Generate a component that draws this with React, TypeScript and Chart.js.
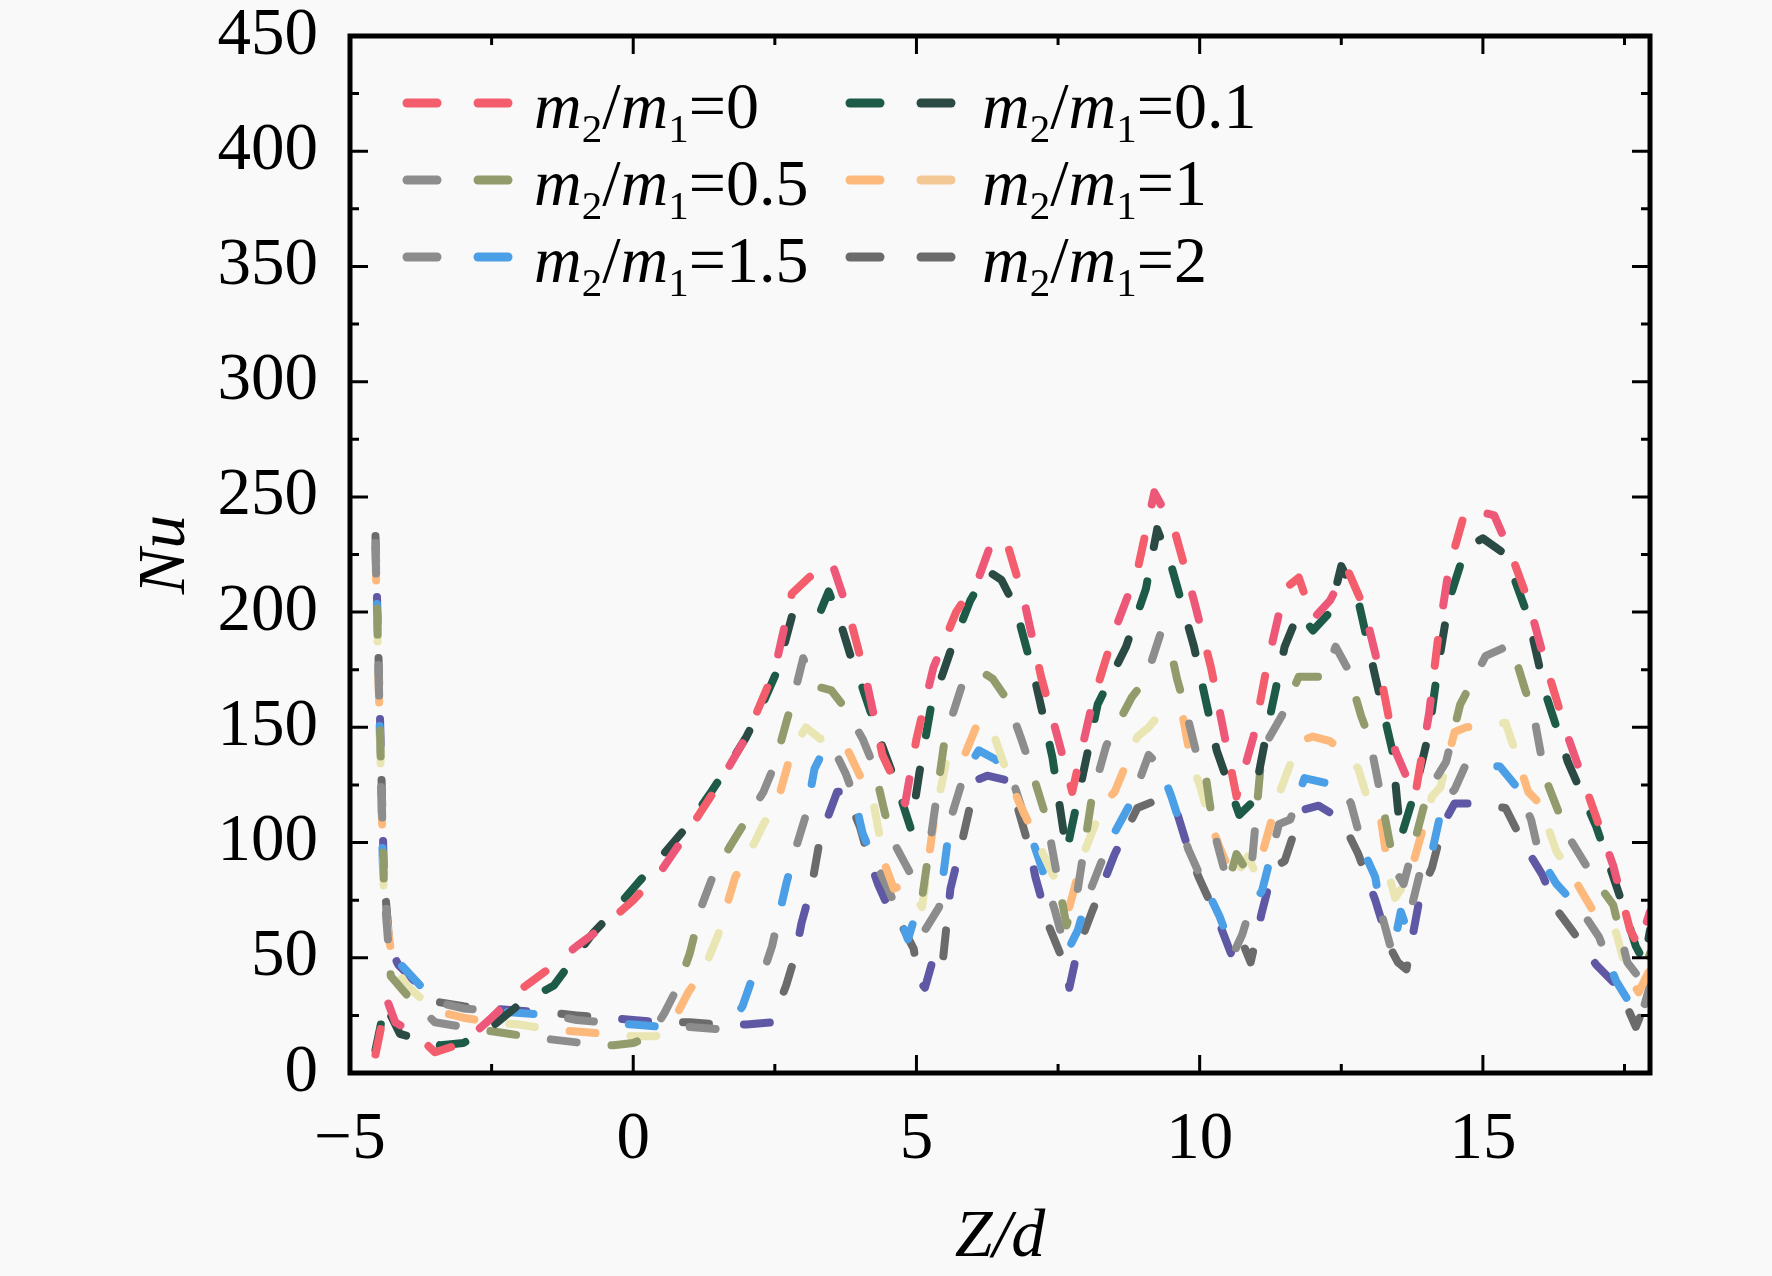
import { useEffect, useRef } from "react";
import { Chart, registerables } from "chart.js";

Chart.register(...registerables);

// Nu along Z/d, one pair of arrays per mass-flow ratio m2/m1
const zdM0 = [-4.55, -4.35, -4.2, -3.8, -3.5, -3.0, -2.5, -2.0, -1.5, -1.0, -0.5, 0, 0.5, 1.0, 1.5, 2.0, 2.5, 2.8, 3.1, 3.5, 3.8, 4.1, 4.4, 4.8, 5.0, 5.3, 5.7, 6.1, 6.35, 6.6, 6.9, 7.2, 7.5, 7.75, 8.1, 8.5, 8.9, 9.2, 9.55, 9.9, 10.2, 10.45, 10.65, 10.95, 11.2, 11.5, 11.75, 12.0, 12.3, 12.6, 12.9, 13.2, 13.45, 13.8, 14.05, 14.2, 14.4, 14.7, 15.2, 15.5, 15.8, 16.1, 16.5, 16.9, 17.3, 17.6, 17.75, 17.95];
const nuM0 = [8, 32, 22, 16, 9, 13, 24, 36, 45, 55, 64, 75, 88, 106, 125, 146, 175, 208, 215, 222, 200, 172, 138, 117, 145, 176, 200, 215, 232, 230, 205, 172, 145, 122, 160, 192, 218, 252, 236, 205, 176, 145, 120, 146, 178, 210, 215, 197, 205, 219, 202, 172, 140, 120, 156, 187, 219, 245, 242, 225, 205, 178, 146, 118, 90, 62, 55, 70];

const zdM01 = [-4.55, -4.38, -4.12, -3.4, -3.0, -2.5, -2.0, -1.4, -1.1, -0.7, -0.35, 0.1, 0.5, 0.95, 1.35, 1.7, 2.0, 2.3, 2.55, 2.8, 3.0, 3.3, 3.45, 3.65, 3.85, 4.05, 4.35, 4.65, 4.9, 5.05, 5.25, 5.6, 5.95, 6.25, 6.5, 6.75, 7.1, 7.4, 7.65, 7.9, 8.2, 8.7, 9.05, 9.25, 9.5, 9.9, 10.3, 10.7, 10.95, 11.2, 11.5, 11.75, 12.0, 12.3, 12.5, 12.8, 13.1, 13.4, 13.55, 13.8, 14.05, 14.2, 14.4, 14.7, 15.0, 15.4, 15.8, 16.1, 16.5, 17.0, 17.4, 17.7, 17.85, 17.95];
const nuM01 = [10, 30, 17, 12, 13, 20, 30, 38, 48, 61, 70, 83, 94, 107, 121, 134, 146, 161, 175, 198, 202, 200, 209, 196, 180, 167, 145, 125, 106, 130, 158, 183, 205, 218, 214, 202, 170, 137, 96, 125, 160, 185, 210, 236, 220, 185, 140, 112, 118, 150, 185, 200, 192, 200, 220, 205, 172, 140, 102, 122, 148, 175, 205, 228, 232, 225, 198, 165, 135, 107, 78, 55, 48, 62];

const zdM05 = [-4.55, -4.4, -4.28, -4.0, -3.5, -3.0, -2.2, -1.6, -0.9, -0.35, 0.0, 0.3, 0.55, 0.8, 1.0, 1.2, 1.4, 1.7, 2.0, 2.3, 2.5, 2.7, 2.85, 3.0, 3.2, 3.5, 3.75, 4.05, 4.25, 4.45, 4.6, 4.95, 5.1, 5.3, 5.5, 5.8, 6.1, 6.35, 6.6, 6.85, 7.0, 7.3, 7.45, 7.65, 7.85, 8.1, 8.35, 8.8, 9.05, 9.3, 9.45, 9.6, 9.75, 9.95, 10.1, 10.25, 10.5, 10.65, 10.9, 11.1, 11.45, 11.75, 12.2, 12.4, 12.6, 12.85, 13.0, 13.2, 13.45, 13.6, 13.95, 14.15, 14.35, 14.6, 15.05, 15.5, 15.75, 15.9, 16.05, 16.15, 16.5, 17.0, 17.3, 17.55, 17.8, 17.95];
const nuM05 = [228, 80, 42, 34, 22, 20, 17, 15, 13, 12, 13, 16, 26, 38, 52, 72, 85, 98, 110, 122, 134, 152, 165, 180, 168, 166, 158, 145, 133, 112, 100, 84, 76, 110, 145, 168, 175, 171, 162, 145, 134, 110, 90, 64, 80, 120, 142, 163, 171, 190, 188, 171, 158, 138, 130, 105, 82, 95, 85, 140, 155, 172, 172, 185, 176, 155, 145, 120, 88, 82, 115, 127, 135, 160, 181, 186, 166, 155, 135, 125, 103, 83, 73, 48, 40, 52];

const zdM1 = [-4.55, -4.4, -4.25, -4.0, -3.5, -3.0, -2.5, -2.0, -1.5, -1.0, -0.5, 0.0, 0.4, 0.7, 0.97, 1.25, 1.5, 1.8, 2.0, 2.3, 2.55, 2.8, 3.05, 3.3, 3.5, 3.75, 4.1, 4.25, 4.45, 4.6, 4.8, 5.1, 5.3, 5.55, 5.8, 6.1, 6.35, 6.5, 6.8, 7.2, 7.35, 7.7, 7.95, 8.3, 8.5, 8.9, 9.1, 9.3, 9.7, 9.85, 10.0, 10.2, 10.35, 10.6, 10.85, 11.0, 11.4, 11.75, 12.0, 12.3, 12.6, 12.8, 13.0, 13.2, 13.35, 13.45, 13.7, 14.1, 14.25, 14.5, 14.7, 15.4, 15.55, 15.8, 16.0, 16.3, 16.5, 17.0, 17.35, 17.55, 17.75, 17.95];
const nuM1 = [225, 75, 48, 38, 27, 24, 22, 21, 19, 18, 17, 16, 16, 22, 35, 45, 60, 85, 93, 108, 118, 140, 150, 145, 146, 142, 124, 116, 90, 80, 82, 72, 108, 138, 135, 153, 148, 137, 118, 97, 89, 72, 95, 117, 122, 146, 150, 156, 155, 135, 125, 108, 98, 84, 94, 86, 121, 144, 146, 144, 138, 132, 116, 110, 85, 76, 85, 120, 124, 148, 150, 152, 141, 122, 117, 96, 89, 68, 61, 43, 35, 45];

const zdM15 = [-4.55, -4.42, -4.3, -4.1, -3.5, -3.0, -2.5, -2.0, -1.4, -1.0, -0.5, 0.0, 0.5, 1.0, 1.5, 1.75, 1.93, 2.1, 2.25, 2.45, 2.7, 2.9, 3.05, 3.2, 3.4, 3.55, 3.75, 3.9, 4.05, 4.22, 4.5, 4.7, 4.85, 5.0, 5.15, 5.4, 5.6, 5.85, 6.1, 6.4, 6.7, 6.95, 7.2, 7.45, 7.65, 7.85, 8.0, 8.4, 8.8, 9.1, 9.3, 9.5, 9.8, 10.0, 10.35, 10.6, 10.75, 10.9, 11.1, 11.4, 11.6, 11.85, 12.2, 12.5, 12.67, 12.9, 13.1, 13.2, 13.4, 13.55, 13.65, 13.9, 14.05, 14.3, 14.5, 14.7, 15.3, 15.6, 15.85, 16.0, 16.3, 16.75, 17.05, 17.35, 17.6, 17.8, 17.95];
const nuM15 = [230, 90, 55, 47, 31, 28, 27, 26, 25, 23, 22, 21, 20, 20, 19, 22, 29, 41, 40, 55, 82, 100, 112, 132, 142, 140, 130, 120, 104, 94, 80, 68, 58, 70, 62, 72, 110, 130, 140, 136, 127, 108, 90, 70, 52, 62, 75, 100, 118, 138, 133, 120, 97, 86, 68, 52, 60, 72, 79, 108, 110, 128, 126, 124, 117, 96, 85, 70, 52, 70, 63, 88, 90, 118, 123, 134, 133, 124, 110, 94, 82, 70, 59, 40, 30, 25, 38];

const zdM2 = [-4.55, -4.4, -4.3, -4.15, -3.5, -3.0, -2.5, -2.0, -1.4, -1.0, -0.5, 0.0, 0.5, 1.0, 1.5, 2.0, 2.45, 2.7, 2.86, 2.97, 3.15, 3.3, 3.45, 3.6, 3.75, 4.0, 4.15, 4.32, 4.5, 4.72, 4.95, 5.05, 5.15, 5.3, 5.45, 5.6, 5.8, 6.05, 6.25, 6.6, 6.8, 7.0, 7.1, 7.35, 7.6, 7.7, 7.85, 8.1, 8.5, 8.9, 9.3, 9.6, 9.85, 10.0, 10.3, 10.55, 10.7, 10.9, 11.1, 11.3, 11.5, 11.8, 12.1, 12.5, 12.8, 13.1, 13.35, 13.5, 13.65, 13.9, 14.1, 14.3, 14.5, 14.8, 15.4, 15.75, 16.05, 16.3, 16.6, 17.0, 17.4, 17.7, 17.95];
const nuM2 = [233, 85, 55, 47, 31, 29, 28, 27, 26, 25, 24, 23, 22, 22, 21, 21, 22, 38, 51, 65, 81, 102, 112, 122, 122, 107, 94, 82, 72, 65, 54, 40, 37, 50, 45, 80, 100, 127, 129, 127, 114, 97, 85, 63, 48, 37, 54, 70, 95, 115, 119, 113, 93, 84, 68, 52, 60, 48, 70, 89, 92, 114, 116, 110, 95, 75, 55, 48, 45, 78, 89, 108, 117, 117, 115, 98, 86, 71, 61, 47, 37, 20, 35];

const ratioLabels = ["0", "0.1", "0.5", "1", "1.5", "2"];
const zdSeries = [zdM0, zdM01, zdM05, zdM1, zdM15, zdM2];
const nuSeries = [nuM0, nuM01, nuM05, nuM1, nuM15, nuM2];
// each line alternates two dash colours
const dashColors = [
  ["#f35d6c", "#ee5878"],
  ["#1d5a48", "#2b4a44"],
  ["#8d8d8d", "#929b6b"],
  ["#fdb97c", "#e9e6b4"],
  ["#8c8c8c", "#4a9fe6"],
  ["#6b6b6b", "#5f58a4"],
];
const legendColors = [
  ["#f35d6c", "#f35d6c"],
  ["#1d5a48", "#2b4a44"],
  ["#8d8d8d", "#929b6b"],
  ["#fdb97c", "#f3c894"],
  ["#8c8c8c", "#4a9fe6"],
  ["#6b6b6b", "#6b6b6b"],
];

const FONT = '"Liberation Serif", "Times New Roman", serif';
const BG = "#f9f9f9";

const background = {
  id: "background",
  beforeDraw(chart: Chart) {
    const { ctx, width, height } = chart;
    ctx.save();
    ctx.fillStyle = BG;
    ctx.fillRect(0, 0, width, height);
    ctx.restore();
  },
};

// box round the plot with inward ticks on all four sides
const frameTicks = {
  id: "frameTicks",
  afterDatasetsDraw(chart: Chart) {
    const { ctx, chartArea: a, scales } = chart;
    const xs = scales.x;
    const ys = scales.y;
    ctx.save();
    ctx.strokeStyle = "#000";
    ctx.lineWidth = 3;
    ctx.beginPath();
    for (let v = 0; v <= 450; v += 25) {
      const len = v % 50 === 0 ? 18 : 9;
      const py = ys.getPixelForValue(v);
      ctx.moveTo(a.left, py);
      ctx.lineTo(a.left + len, py);
      ctx.moveTo(a.right, py);
      ctx.lineTo(a.right - len, py);
    }
    for (let v = -5; v <= 17.5; v += 2.5) {
      const len = v % 5 === 0 ? 18 : 9;
      const px = xs.getPixelForValue(v);
      ctx.moveTo(px, a.bottom);
      ctx.lineTo(px, a.bottom - len);
      ctx.moveTo(px, a.top);
      ctx.lineTo(px, a.top + len);
    }
    ctx.stroke();
    ctx.lineWidth = 5;
    ctx.strokeRect(a.left, a.top, a.right - a.left, a.bottom - a.top);
    ctx.restore();
  },
};

// legend: two dashes, then italic m with subscripts
const ratioLegend = {
  id: "ratioLegend",
  afterDraw(chart: Chart) {
    const { ctx } = chart;
    const sampleX = [403, 846];
    const textX = [534, 982];
    const baseY = [128, 205, 282];
    ctx.save();
    ratioLabels.forEach((lab, i) => {
      const col = i % 2;
      const row = Math.floor(i / 2);
      const y = baseY[row];
      const ly = y - 25;
      ctx.lineCap = "round";
      ctx.lineWidth = 9;
      [0, 71].forEach((dx, k) => {
        ctx.strokeStyle = legendColors[i][k];
        ctx.beginPath();
        ctx.moveTo(sampleX[col] + dx + 4, ly);
        ctx.lineTo(sampleX[col] + dx + 34, ly);
        ctx.stroke();
      });
      const parts: [string, string, number][] = [
        ["m", `italic 66px ${FONT}`, 0],
        ["2", `41px ${FONT}`, 14],
        ["/", `66px ${FONT}`, 0],
        ["m", `italic 66px ${FONT}`, 0],
        ["1", `41px ${FONT}`, 14],
        ["=" + lab, `66px ${FONT}`, 0],
      ];
      let x = textX[col];
      ctx.fillStyle = "#000";
      ctx.textBaseline = "alphabetic";
      ctx.textAlign = "left";
      for (const [t, f, dy] of parts) {
        ctx.font = f;
        ctx.fillText(t, x, y + dy);
        x += ctx.measureText(t).width;
      }
    });
    ctx.restore();
  },
};

export default function App() {
  const canvasRef = useRef<HTMLCanvasElement>(null);

  useEffect(() => {
    document.body.style.margin = "0";
    document.body.style.background = BG;
    if (!canvasRef.current) return;

    const datasets = zdSeries.flatMap((zd, i) =>
      [0, 1].map((k) => ({
        label: "m2/m1=" + ratioLabels[i],
        data: zd.map((x, j) => ({ x, y: nuSeries[i][j] })),
        borderColor: dashColors[i][k],
        borderWidth: 8,
        borderDash: [26, 96],
        borderDashOffset: k * 61,
        borderCapStyle: "round" as const,
        borderJoinStyle: "round" as const,
        pointRadius: 0,
        fill: false,
        tension: 0,
      }))
    );

    const chart = new Chart(canvasRef.current, {
      type: "line",
      data: { datasets },
      options: {
        animation: false,
        responsive: false,
        devicePixelRatio: 1,
        layout: { padding: { top: 36, right: 122, left: 0, bottom: 0 } },
        plugins: {
          legend: { display: false },
          tooltip: { enabled: false },
        },
        scales: {
          x: {
            type: "linear",
            min: -5,
            max: 17.95,
            grid: { display: false },
            border: { display: false },
            ticks: {
              stepSize: 5,
              includeBounds: false,
              padding: 19,
              color: "#000",
              font: { family: FONT, size: 67 },
              callback: (v) => String(v).replace("-", "\u2212"),
            },
            title: {
              display: true,
              text: "Z/d",
              color: "#000",
              font: { family: FONT, size: 68, style: "italic" },
              padding: { top: 0, bottom: -3 },
            },
            afterFit: (s) => {
              s.height = 203;
              s.paddingLeft = 0;
              s.paddingRight = 0;
            },
          },
          y: {
            type: "linear",
            min: 0,
            max: 450,
            grid: { display: false },
            border: { display: false },
            ticks: {
              stepSize: 50,
              padding: 24,
              color: "#000",
              font: { family: FONT, size: 67 },
            },
            title: {
              display: true,
              text: "Nu",
              color: "#000",
              font: { family: FONT, size: 68, style: "italic" },
              padding: { top: 125, bottom: 0 },
            },
            afterFit: (s) => {
              s.width = 350;
              s.paddingTop = 0;
              s.paddingBottom = 0;
            },
          },
        },
      },
      plugins: [background, frameTicks, ratioLegend],
    });

    return () => {
      chart.destroy();
    };
  }, []);

  return (
    <div style={{ width: 1772, height: 1276 }}>
      <canvas ref={canvasRef} width={1772} height={1276} />
    </div>
  );
}
